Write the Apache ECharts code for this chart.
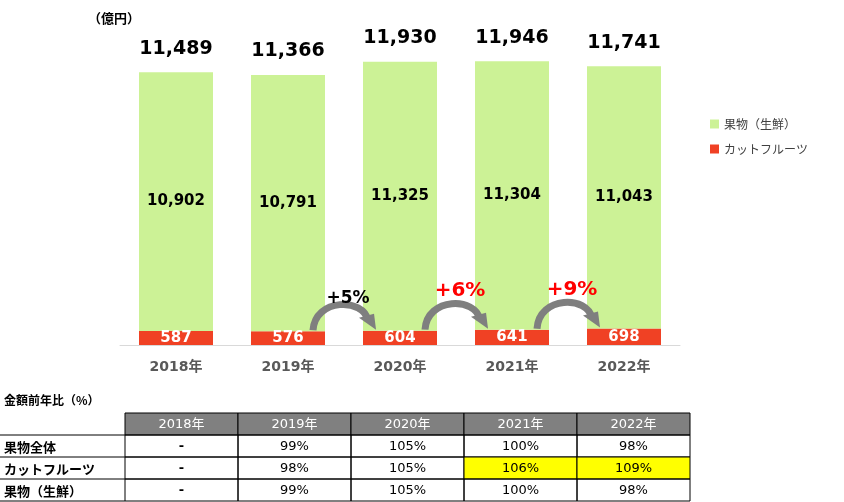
<!DOCTYPE html>
<html><head><meta charset="utf-8">
<script src="https://cdn.jsdelivr.net/npm/echarts@6/dist/echarts.min.js"></script>
<style>html,body{margin:0;padding:0;background:#fff}#c{width:844px;height:502px}</style>
</head><body><div id="c"></div>
<script>
const categories = ['2018年','2019年','2020年','2021年','2022年'];
const freshValues = [10902, 10791, 11325, 11304, 11043];
const cutValues = [587, 576, 604, 641, 698];
const totalValues = [11489, 11366, 11930, 11946, 11741];
const growthLabels = ['+5%', '+6%', '+9%'];
const growthHighlight = [false, true, true];
const tableTitle = '金額前年比（%）';
const rowNames = ['果物全体', 'カットフルーツ', '果物（生鮮）'];
const rowTotal = ['-', '99%', '105%', '100%', '98%'];
const rowCut = ['-', '98%', '105%', '106%', '109%'];
const rowFresh = ['-', '99%', '105%', '100%', '98%'];
const cutHighlight = [false, false, false, true, true];

const FONT = '"DejaVu Sans", "Noto Sans CJK JP", sans-serif';
const JP = '"Noto Sans CJK JP", sans-serif';
const chart = echarts.init(document.getElementById('c'));
const fmt = v => v.toLocaleString('en-US');

chart.setOption({
  animation: false,
  grid: { left: 120, right: 164, top: 60, bottom: 157 },
  legend: {
    data: ['果物（生鮮）', 'カットフルーツ'],
    orient: 'vertical', left: 705, top: 113, itemWidth: 9, itemHeight: 9, itemGap: 13,
    icon: 'rect',
    textStyle: { fontFamily: JP, fontSize: 12, color: '#404040' }
  },
  xAxis: {
    type: 'category', data: categories,
    axisLine: { lineStyle: { color: '#d9d9d9', width: 1 } },
    axisTick: { show: false },
    axisLabel: { margin: 15, fontFamily: FONT, fontWeight: 'bold', fontSize: 14, color: '#595959' }
  },
  yAxis: { type: 'value', min: 0, max: 12000, show: false, splitLine: { show: false } },
  series: [
    { name: 'カットフルーツ', type: 'bar', stack: 't', data: cutValues, barWidth: 74,
      itemStyle: { color: '#f04124' },
      label: { show: true, position: 'inside', color: '#fff', fontFamily: FONT, fontWeight: 'bold', fontSize: 15, formatter: p => fmt(p.value) } },
    { name: '果物（生鮮）', type: 'bar', stack: 't', data: freshValues, barWidth: 74,
      itemStyle: { color: '#ccf296' },
      label: { show: true, position: 'inside', color: '#000', fontFamily: FONT, fontWeight: 'bold', fontSize: 15, formatter: p => fmt(p.value) } },
    { name: 'total', type: 'scatter', data: totalValues, symbolSize: 0, silent: true,
      itemStyle: { opacity: 1, color: '#000' },
      label: { show: true, position: 'top', distance: 14, color: '#000', fontFamily: FONT, fontWeight: 'bold', fontSize: 19, formatter: p => fmt(p.value) } }
  ]
});

// graphics: unit, arrows, table
const g = [];
g.push({ type: 'text', left: 88, top: 12, style: { text: '（億円）', font: 'bold 13px ' + JP, fill: '#000' } });

for (let k = 0; k < growthLabels.length; k++) {
  const i = k + 1;
  const a = chart.convertToPixel({ xAxisIndex: 0, yAxisIndex: 0 }, [i, cutValues[i]]);
  const b = chart.convertToPixel({ xAxisIndex: 0, yAxisIndex: 0 }, [i + 1, cutValues[i + 1]]);
  const sx = a[0] + 25, sy = a[1] - 1;
  const tx = b[0] - 25, ty = b[1] - 1;
  const peak = Math.min(sy, ty) - 32;
  const ex = tx - 7, ey = ty - 9;
  g.push({ type: 'bezierCurve', z: 10, shape: { x1: sx, y1: sy, x2: ex, y2: ey, cpx1: sx + 2, cpy1: peak, cpx2: ex - 4, cpy2: peak },
    style: { stroke: '#7f7f7f', lineWidth: 7, fill: null } });
  g.push({ type: 'polygon', z: 10, shape: { points: [[ex - 9, ey - 3], [ex + 6, ey - 7], [tx + 1, ty]] }, style: { fill: '#7f7f7f' } });
  const hl = growthHighlight[k];
  g.push({ type: 'text', z: 11, x: (a[0] + b[0]) / 2 + 4, y: hl ? peak - 6 : peak + 1,
    style: { text: growthLabels[k], font: 'bold ' + (hl ? 20 : 17) + 'px ' + FONT, fill: hl ? '#ff0000' : '#000', align: 'center', verticalAlign: 'middle' } });
}

// table
g.push({ type: 'text', left: 4, top: 394, style: { text: tableTitle, font: 'bold 12px ' + JP, fill: '#000' } });
const colX0 = 125, colW = 113, top0 = 413, hdrH = 22, rowH = 22;
for (let c = 0; c < categories.length; c++) {
  g.push({ type: 'rect', shape: { x: colX0 + c * colW, y: top0, width: colW, height: hdrH }, style: { fill: '#808080', stroke: '#000', lineWidth: 1 } });
  g.push({ type: 'text', x: colX0 + c * colW + colW / 2, y: top0 + hdrH / 2 + 1, style: { text: categories[c], font: '13px ' + FONT, fill: '#fff', align: 'center', verticalAlign: 'middle' } });
}
const rows = [rowTotal, rowCut, rowFresh];
for (let r = 0; r < rows.length; r++) {
  const y = top0 + hdrH + r * rowH;
  g.push({ type: 'text', x: 4, y: y + rowH / 2 + 1, style: { text: rowNames[r], font: 'bold 13px ' + JP, fill: '#000', verticalAlign: 'middle' } });
  for (let c = 0; c < categories.length; c++) {
    const yellow = r === 1 && cutHighlight[c];
    g.push({ type: 'rect', shape: { x: colX0 + c * colW, y: y, width: colW, height: rowH }, style: { fill: yellow ? '#ffff00' : 'rgba(0,0,0,0)', stroke: '#000', lineWidth: 1 } });
    const isDash = rows[r][c] === '-';
    g.push({ type: 'text', x: colX0 + c * colW + colW / 2, y: y + rowH / 2 + 1, style: { text: rows[r][c], font: (isDash ? 'bold ' : '') + '13px ' + FONT, fill: '#000', align: 'center', verticalAlign: 'middle' } });
  }
  g.push({ type: 'line', shape: { x1: 0, y1: y + rowH, x2: colX0, y2: y + rowH }, style: { stroke: '#000', lineWidth: 1 } });
}
g.push({ type: 'line', shape: { x1: 0, y1: top0 + hdrH, x2: colX0, y2: top0 + hdrH }, style: { stroke: '#000', lineWidth: 1 } });
chart.setOption({ graphic: g });
</script></body></html>
